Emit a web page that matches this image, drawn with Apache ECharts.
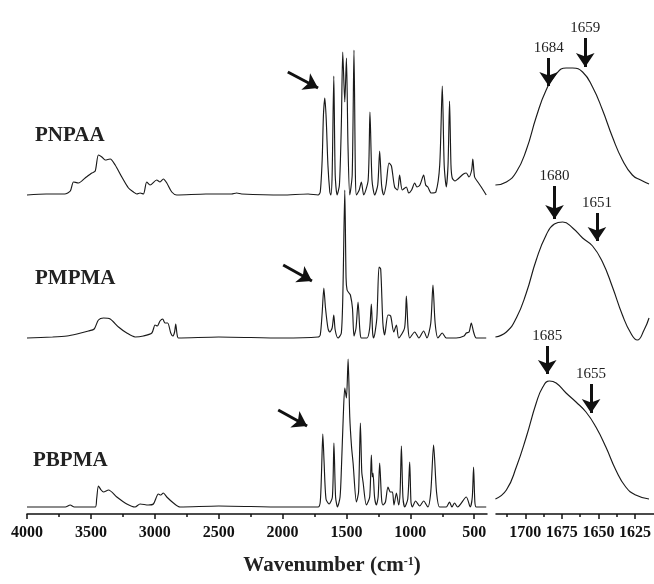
<!DOCTYPE html>
<html><head><meta charset="utf-8">
<script src="https://cdn.jsdelivr.net/npm/echarts@6/dist/echarts.min.js"></script>
<style>html,body{margin:0;padding:0;background:#fff}#c{width:654px;height:584px}</style>
</head><body><div id="c"></div>
<script>
// ---------- data (wavenumber in cm-1, relative absorbance) ----------
const seriesNames = ['PNPAA', 'PMPMA', 'PBPMA'];
const stackOffsets = [3.19, 1.76, 0.07];

// full range spectra (4000-400 cm-1)
const wnPNPAA = [4000,3850,3705,3661,3636,3597,3545,3492,3466,3441,3414,3388,3349,3310,3258,3206,3167,3141,3115,3089,3063,3037,2985,2959,2933,2906,2867,2828,2600,2400,2359,2320,2000,1800,1722,1705,1690,1680,1669,1658,1645,1630,1622,1612,1599,1588,1573,1555,1540,1529,1513,1500,1488,1474,1455,1441,1430,1422,1400,1383,1365,1330,1316,1300,1279,1255,1240,1225,1209,1190,1167,1148,1123,1100,1084,1063,1031,1013,990,966,948,925,896,880,863,836,800,770,750,735,719,705,693,682,672,650,628,584,562,542,520,511,497,472,445,406];
const absPNPAA = [0,0.01,0.01,0.04,0.13,0.12,0.17,0.22,0.24,0.40,0.38,0.35,0.36,0.30,0.18,0.07,0.03,0.01,0.02,0.01,0.13,0.10,0.15,0.13,0.16,0.12,0.03,0,0.01,0.01,0.02,0.01,0,0.01,0,0.03,0.35,0.80,0.97,0.75,0.30,0.03,0,0.20,1.19,0.20,0,0.10,0.70,1.43,0.93,1.37,0.50,0,0.20,1.45,0.20,0,0.05,0.13,0,0.15,0.83,0.15,0,0.10,0.44,0.10,0,0.10,0.32,0.29,0.08,0.05,0.20,0.05,0.08,0.02,0.05,0.12,0.08,0.10,0.20,0.10,0.08,0.02,0.03,0.30,1.09,0.30,0.08,0.30,0.94,0.30,0.17,0.14,0.16,0.21,0.22,0.18,0.25,0.36,0.18,0.13,0.08,0];

const wnPMPMA = [4000,3800,3687,3609,3519,3474,3441,3401,3349,3284,3219,3154,3089,3023,2998,2980,2959,2938,2920,2899,2875,2859,2845,2836,2826,2815,2500,2000,1722,1705,1690,1677,1664,1645,1631,1612,1599,1588,1566,1540,1527,1513,1503,1495,1480,1469,1453,1441,1425,1409,1395,1383,1339,1318,1305,1295,1287,1262,1245,1232,1215,1201,1175,1154,1130,1109,1091,1045,1031,1018,1005,966,933,896,870,840,823,806,784,750,719,641,580,562,540,523,505,484,406];
const absPMPMA = [0,0.01,0.02,0.04,0.07,0.09,0.18,0.20,0.19,0.11,0.05,0.01,0.02,0.05,0.13,0.12,0.17,0.19,0.15,0.15,0.05,0.02,0.06,0.14,0.04,0,0.01,0,0.01,0.03,0.25,0.50,0.30,0.10,0.06,0.10,0.23,0.08,0,0.05,0.50,1.48,0.60,0.48,0.45,0.43,0.30,0.02,0.10,0.36,0.08,0,0,0.10,0.34,0.05,0,0.20,0.71,0.69,0.15,0.03,0.23,0.22,0.06,0.13,0,0.10,0.42,0.10,0,0.06,0,0.07,0,0.15,0.53,0.15,0,0.05,0,0,0.02,0.05,0.06,0.15,0.06,0,0];

const wnPBPMA = [4000,3700,3662,3630,3466,3455,3441,3420,3401,3362,3297,3219,3154,3115,3050,3011,2972,2953,2933,2906,2854,2802,2500,2000,1722,1705,1695,1685,1675,1660,1636,1610,1598,1585,1570,1550,1539,1525,1513,1500,1487,1474,1460,1448,1422,1405,1391,1380,1370,1344,1318,1305,1298,1292,1280,1266,1252,1240,1225,1214,1195,1175,1156,1140,1128,1109,1091,1080,1070,1058,1044,1020,1005,995,984,959,927,896,863,840,818,795,771,719,693,675,654,630,562,531,515,505,495,484,406];
const absPBPMA = [0,0,0.02,0,0,0.08,0.21,0.17,0.15,0.17,0.10,0.03,0,0.03,0.02,0.03,0.13,0.12,0.14,0.10,0.04,0,0.01,0,0,0.05,0.35,0.73,0.45,0.08,0.03,0.10,0.64,0.10,0,0.10,0.40,0.90,1.19,1.09,1.48,0.90,0.60,0.44,0.05,0.15,0.84,0.35,0.25,0.02,0.10,0.52,0.30,0.34,0.10,0.02,0.10,0.44,0.08,0.02,0.05,0.20,0.15,0.15,0.02,0.14,0.02,0.15,0.61,0.10,0,0.08,0.45,0.05,0,0.06,0.01,0.06,0,0.15,0.62,0.15,0,0,0.05,0,0.04,0,0.10,0,0.10,0.40,0.05,0,0];

// expanded carbonyl region (1720-1612 cm-1)
const wnZoom = [1720.4,1712.9,1706.1,1699.3,1692.5,1685.7,1678.9,1672.1,1667.6,1660.8,1654.0,1647.2,1640.4,1633.6,1626.8,1621.1,1615.4];
const zoomPNPAA = [0.10,0.13,0.23,0.45,0.78,1.05,1.21,1.27,1.27,1.23,1.08,0.85,0.58,0.35,0.20,0.15,0.11];
const wnZoomPMPMA = [1720.4,1712.9,1706.1,1699.3,1692.5,1685.7,1680.1,1674.4,1667.6,1660.8,1654.0,1647.2,1640.4,1633.6,1627.9,1623.4,1618.8,1615.4];
const zoomPMPMA = [0.01,0.06,0.20,0.45,0.78,1.03,1.14,1.16,1.10,1.00,0.92,0.76,0.51,0.23,0.05,-0.02,0.08,0.20];
const wnZoomPBPMA = [1720.4,1712.9,1706.1,1699.3,1692.5,1688.0,1683.5,1678.9,1672.1,1665.3,1658.5,1651.7,1644.9,1638.1,1631.3,1624.5,1615.4];
const zoomPBPMA = [0.08,0.17,0.40,0.70,1.04,1.20,1.26,1.24,1.14,1.05,0.95,0.80,0.60,0.37,0.20,0.12,0.08];

// arrow annotations: [wnStart, yStart, wnEnd, yEnd] (stacked units)
const leftArrows = [[1959,4.42,1722,4.26],[1995,2.49,1770,2.33],[2034,1.04,1808,0.88]];
const peakLabels = ['1684','1659','1680','1651','1685','1655'];
const peakArrows = [[1684,4.56,1684,4.28],[1659,4.76,1659,4.47],[1680,3.28,1680,2.95],[1651,3.01,1651,2.73],[1685,1.68,1685,1.40],[1655,1.30,1655,1.01]];

// axis ticks
const leftMajor = [4000,3500,3000,2500,2000,1500,1000,500];
const leftMinor = [3750,3250,2750,2250,1750,1250,750];
const rightMajor = [1700,1675,1650,1625];
const rightMinor = [1712.5,1687.5,1662.5,1637.5];

// ---------- chart ----------
const SERIF = '"Liberation Serif","DejaVu Serif",serif';
const pair = (w, a, off) => w.map((x, i) => [x, off + a[i]]);
const chart = echarts.init(document.getElementById('c'), null, {renderer: 'canvas'});

function xAxisDef(grid, min, max, ticks, labels, len, showLine) {
  return {
    type: 'value', gridIndex: grid, min: min, max: max, inverse: true, position: 'bottom',
    axisLine: {show: showLine, onZero: false, lineStyle: {color: '#111', width: 1.5}},
    axisTick: {show: true, length: len, customValues: ticks, lineStyle: {color: '#111', width: 1.5}},
    axisLabel: labels ? {show: true, customValues: labels, margin: 11, color: '#111', hideOverlap: false,
      showMinLabel: true, showMaxLabel: true,
      formatter: v => String(v),
      fontFamily: SERIF, fontWeight: 'bold', fontSize: 16} : {show: false},
    splitLine: {show: false}
  };
}
const lineStyle = {color: '#1a1a1a', width: 1.15};
const arrowMark = (arr, labels) => ({
  silent: true, animation: false, symbol: ['none', 'arrow'], symbolSize: 14,
  lineStyle: {color: '#111', width: 3, type: 'solid'},
  itemStyle: {color: '#111'},
  label: labels ? {show: true, position: 'start', distance: 2, color: '#222', fontFamily: SERIF, fontSize: 15,
    formatter: p => labels[p.dataIndex]} : {show: false},
  data: arr.map(a => [{coord: [a[0], a[1]]}, {coord: [a[2], a[3]]}])
});

const option = {
  animation: false,
  backgroundColor: '#fff',
  grid: [
    {left: 27, right: 167, top: 10, bottom: 70, outerBoundsMode: 'none', containLabel: false},
    {left: 496, right: 0, top: 10, bottom: 70, outerBoundsMode: 'none', containLabel: false}
  ],
  xAxis: [
    xAxisDef(0, 400, 4000, leftMajor, leftMajor, 5, true),
    xAxisDef(0, 400, 4000, leftMinor, null, 3, false),
    xAxisDef(1, 1612, 1720, rightMajor, rightMajor, 5, true),
    xAxisDef(1, 1612, 1720, rightMinor, null, 3, false)
  ],
  yAxis: [
    {type: 'value', gridIndex: 0, min: 0, max: 5.04, show: false},
    {type: 'value', gridIndex: 1, min: 0, max: 5.04, show: false}
  ],
  series: [
    {type: 'line', xAxisIndex: 0, yAxisIndex: 0, data: pair(wnPNPAA, absPNPAA, stackOffsets[0]), showSymbol: false, smooth: 0.25, lineStyle: lineStyle, markLine: arrowMark(leftArrows, null)},
    {type: 'line', xAxisIndex: 0, yAxisIndex: 0, data: pair(wnPMPMA, absPMPMA, stackOffsets[1]), showSymbol: false, smooth: 0.25, lineStyle: lineStyle},
    {type: 'line', xAxisIndex: 0, yAxisIndex: 0, data: pair(wnPBPMA, absPBPMA, stackOffsets[2]), showSymbol: false, smooth: 0.25, lineStyle: lineStyle},
    {type: 'line', xAxisIndex: 2, yAxisIndex: 1, data: pair(wnZoom, zoomPNPAA, stackOffsets[0]), showSymbol: false, smooth: 0.5, lineStyle: lineStyle, markLine: arrowMark(peakArrows, peakLabels)},
    {type: 'line', xAxisIndex: 2, yAxisIndex: 1, data: pair(wnZoomPMPMA, zoomPMPMA, stackOffsets[1]), showSymbol: false, smooth: 0.5, lineStyle: lineStyle},
    {type: 'line', xAxisIndex: 2, yAxisIndex: 1, data: pair(wnZoomPBPMA, zoomPBPMA, stackOffsets[2]), showSymbol: false, smooth: 0.5, lineStyle: lineStyle}
  ],
  graphic: [
    {type: 'text', x: 35, y: 136, style: {text: seriesNames[0], font: 'bold 21px ' + SERIF, fill: '#222', verticalAlign: 'middle'}},
    {type: 'text', x: 35, y: 279, style: {text: seriesNames[1], font: 'bold 21px ' + SERIF, fill: '#222', verticalAlign: 'middle'}},
    {type: 'text', x: 33, y: 461, style: {text: seriesNames[2], font: 'bold 21px ' + SERIF, fill: '#222', verticalAlign: 'middle'}},
    {type: 'text', x: 332, y: 566, style: {
      text: '{a|Wavenumber (cm}{b|-1}{a|)}', align: 'center', verticalAlign: 'middle',
      rich: {
        a: {fontFamily: SERIF, fontWeight: 'bold', fontSize: 21, fill: '#222', color: '#222'},
        b: {fontFamily: SERIF, fontWeight: 'bold', fontSize: 12, fill: '#222', color: '#222', verticalAlign: 'top', padding: [0, 0, 9, 0]}
      }
    }}
  ]
};
chart.setOption(option);
</script>
</body></html>
